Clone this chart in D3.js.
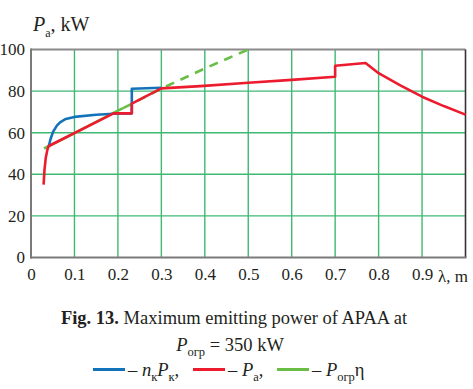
<!DOCTYPE html>
<html>
<head>
<meta charset="utf-8">
<script src="https://cdn.jsdelivr.net/npm/d3@7"></script>
</head>
<body style="margin:0">
<svg id="fig" width="473" height="389"></svg>
<script>
// Data
const xTicks = [0, 0.1, 0.2, 0.3, 0.4, 0.5, 0.6, 0.7, 0.8, 0.9];
const yTicks = [0, 20, 40, 60, 80, 100];

// n_k P_k (blue)
const bluePts = [
  [0.041, 53.6], [0.045, 57], [0.051, 60.5], [0.06, 63.5], [0.067, 65],
  [0.08, 66.6], [0.1, 67.6], [0.15, 68.6], [0.19, 69.1], [0.232, 69.3],
  [0.232, 81.1], [0.3, 81.6]
];
// P_a (red)
const redPts = [
  [0.029, 35], [0.031, 42], [0.034, 48], [0.038, 52], [0.041, 53.6],
  [0.19, 69.3], [0.232, 69.3], [0.232, 74], [0.3, 81.3], [0.39, 82.4],
  [0.5, 84], [0.6, 85.4], [0.7, 86.9], [0.7, 92.2], [0.77, 93.5],
  [0.8, 88.6], [0.85, 82.8], [0.9, 77.3], [0.95, 72.8], [1.0, 68.7]
];
// P_ogr * eta (green)
const greenSolid = [[0.03, 52.4], [0.1, 59.8], [0.2, 70.6], [0.212, 71.8]];
const greenDash = [[0.212, 71.8], [0.3, 81.2], [0.4, 90.9], [0.5, 100]];

const FONT = "'Liberation Serif', 'Times New Roman', Tinos, monospace";
const INK = "#231f20";
const svg = d3.select('#fig');

// Scales
const x = d3.scaleLinear().domain([0, 1]).range([31, 465.5]);
const y = d3.scaleLinear().domain([0, 100]).range([257.5, 49.5]);

const gridColor = "#3fb872";

// Grid lines
svg.append("g").selectAll("line")
    .data(xTicks.filter(d => d > 0))
    .enter().append("line")
    .attr("x1", d => x(d)).attr("x2", d => x(d))
    .attr("y1", y(0)).attr("y2", y(100))
    .attr("stroke", gridColor).attr("stroke-width", 1.4);

svg.append("g").selectAll("line")
    .data(yTicks.filter(d => d > 0 && d < 100))
    .enter().append("line")
    .attr("x1", x(0)).attr("x2", x(1))
    .attr("y1", d => y(d)).attr("y2", d => y(d))
    .attr("stroke", gridColor).attr("stroke-width", 1.4);

// Frame
svg.append("line").attr("x1", x(0)).attr("x2", x(1)).attr("y1", y(100)).attr("y2", y(100))
    .attr("stroke", "#8a8a8a").attr("stroke-width", 2);
svg.append("line").attr("x1", x(1)).attr("x2", x(1)).attr("y1", y(100)).attr("y2", y(0))
    .attr("stroke", "#333").attr("stroke-width", 1.6);
svg.append("line").attr("x1", x(0)).attr("x2", x(0)).attr("y1", y(100) - 1).attr("y2", y(0) + 1)
    .attr("stroke", "#7a7a7a").attr("stroke-width", 2);
svg.append("line").attr("x1", x(0) - 1).attr("x2", x(1) + 1).attr("y1", y(0)).attr("y2", y(0))
    .attr("stroke", "#7a7a7a").attr("stroke-width", 2);

// Axes (labels only)
const xAxis = svg.append("g")
    .attr("transform", "translate(0," + y(0) + ")")
    .call(d3.axisBottom(x).tickValues(xTicks).tickFormat(d3.format("~g")).tickSize(0).tickPadding(10));
const yAxis = svg.append("g")
    .attr("transform", "translate(" + x(0) + ",0)")
    .call(d3.axisLeft(y).tickValues(yTicks).tickSize(0).tickPadding(6));
[xAxis, yAxis].forEach(g => {
  g.attr("font-family", FONT).attr("font-size", 17);
  g.select(".domain").remove();
  g.selectAll("text").attr("fill", INK)
    .attr("font-family", FONT).attr("font-size", 17)
    .style("font-family", FONT).style("font-size", "17px");
});

// Lines
const line = d3.line().x(d => x(d[0])).y(d => y(d[1]));

svg.append("path").datum(greenSolid).attr("d", line)
    .attr("fill", "none").attr("stroke", "#6abd45").attr("stroke-width", 2.6);
svg.append("path").datum(greenDash).attr("d", line)
    .attr("fill", "none").attr("stroke", "#6abd45").attr("stroke-width", 2.6)
    .attr("stroke-dasharray", "9,7");
svg.append("path").datum(bluePts).attr("d", line)
    .attr("fill", "none").attr("stroke", "#1273bb").attr("stroke-width", 2.6)
    .attr("stroke-linejoin", "round");
svg.append("path").datum(redPts).attr("d", line)
    .attr("fill", "none").attr("stroke", "#ec1c2e").attr("stroke-width", 2.6)
    .attr("stroke-linejoin", "round");

// helper for text with font
function addText(px, py, size) {
  return svg.append("text").attr("x", px).attr("y", py)
    .attr("font-family", FONT).attr("font-size", size)
    .style("font-family", FONT).style("font-size", size + "px").attr("fill", INK);
}

// Y axis title
const yt = addText(33, 31, 20);
yt.append("tspan").style("font-style", "italic").text("P");
yt.append("tspan").attr("dy", 6).style("font-size", "12px").text("a");
yt.append("tspan").attr("dy", -6).text(", kW");

// X axis title
addText(438, y(0) + 24, 17).text("λ, m");

// Caption
const c1 = addText(234, 324, 18.5).attr("text-anchor", "middle");
c1.append("tspan").style("font-weight", "bold").text("Fig. 13.");
c1.append("tspan").text(" Maximum emitting power of APAA at");

const c2 = addText(230, 351, 18.5).attr("text-anchor", "middle");
c2.append("tspan").style("font-style", "italic").text("P");
c2.append("tspan").attr("dy", 5).style("font-size", "12.5px").text("огр");
c2.append("tspan").attr("dy", -5).text(" = 350 kW");

// Legend
const legend = [
  { color: "#1273bb", x0: 93 },
  { color: "#ec1c2e", x0: 193 },
  { color: "#6abd45", x0: 277 }
];
svg.append("g").selectAll("line")
    .data(legend)
    .enter().append("line")
    .attr("x1", d => d.x0).attr("x2", d => d.x0 + 32)
    .attr("y1", 369.5).attr("y2", 369.5)
    .attr("stroke", d => d.color).attr("stroke-width", 3);

const l1 = addText(128, 376, 18.5);
l1.append("tspan").text("– ");
l1.append("tspan").style("font-style", "italic").text("n");
l1.append("tspan").attr("dy", 5).style("font-size", "12.5px").text("к");
l1.append("tspan").attr("dy", -5).style("font-style", "italic").text("P");
l1.append("tspan").attr("dy", 5).style("font-size", "12.5px").text("к");
l1.append("tspan").attr("dy", -5).text(",");

const l2 = addText(228, 376, 18.5);
l2.append("tspan").text("– ");
l2.append("tspan").style("font-style", "italic").text("P");
l2.append("tspan").attr("dy", 5).style("font-size", "12.5px").text("а");
l2.append("tspan").attr("dy", -5).text(",");

const l3 = addText(312, 376, 18.5);
l3.append("tspan").text("– ");
l3.append("tspan").style("font-style", "italic").text("P");
l3.append("tspan").attr("dy", 5).style("font-size", "12.5px").text("огр");
l3.append("tspan").attr("dy", -5).text("η");
</script>
</body>
</html>
